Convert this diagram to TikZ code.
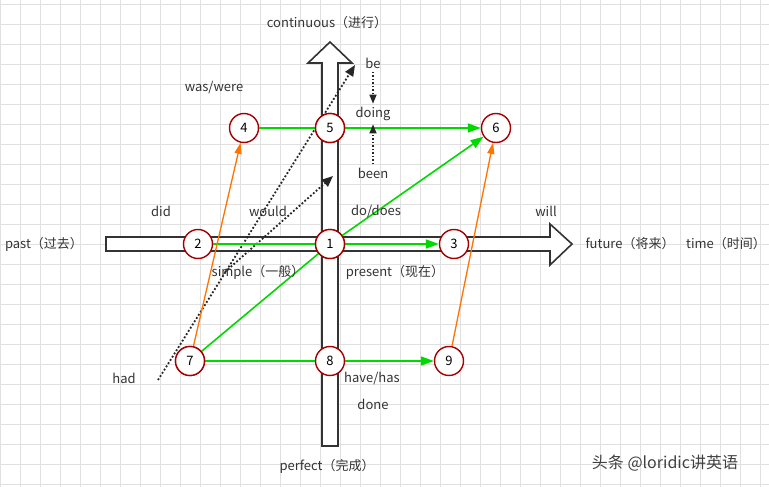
\documentclass[tikz,border=0pt]{standalone}
\usepackage{fontspec}
\setmainfont{Noto Sans CJK SC}
\usetikzlibrary{math,arrows.meta}
\tikzset{
  num/.style={circle, draw=red!65!black, line width=1.4pt, fill=white, minimum size=29pt, inner sep=0pt, font=\fontsize{13}{15}\selectfont},
  lbl/.style={text=black!80, font=\fontsize{13}{15}\selectfont},
  grn/.style={draw=green!85!black, line width=1.6pt},
  org/.style={draw=orange!90!red, line width=1.3pt, -{Triangle[width=7pt,length=11pt]}},
  dots/.style={dotted, line width=1.8pt, black!85},
  axis/.style={fill=white, draw=black!80, line width=1.6pt}
}
\begin{document}
\begin{tikzpicture}[x=1pt,y=-1pt]
  \useasboundingbox (0,0) rectangle (769,487);
  %%%%%%%%%%%%
  %  Griglia  %
  %%%%%%%%%%%%
  \fill[white] (0,0) rectangle (769,487);
  \foreach \i in {0,20,...,760} \draw[black!12, line width=.6pt] (\i,0) -- (\i,487);
  \foreach \j in {4,24,...,484} \draw[black!12, line width=.6pt] (0,\j) -- (769,\j);
  %%%%%%%%%%
  %  Assi  %
  %%%%%%%%%%
  \tikzmath{\cx = 330; \cy = 244;}
  \draw[axis] (106,237) -- (550,237) -- (550,224) -- (572,\cy)
    -- (550,265) -- (550,251) -- (106,251) -- cycle;
  \draw[axis] (322,446) -- (322,63) -- (308,63) -- (\cx,42)
    -- (352,63) -- (338,63) -- (338,446) -- cycle;
  %%%%%%%%%%
  %  Nodi  %
  %%%%%%%%%%
  \node[num] (n1) at (\cx,\cy) {1};
  \node[num] (n2) at (198,\cy) {2};
  \node[num] (n3) at (454,\cy) {3};
  \node[num] (n4) at (244,128) {4};
  \node[num] (n5) at (\cx,128) {5};
  \node[num] (n6) at (496,128) {6};
  \node[num] (n7) at (190,361) {7};
  \node[num] (n8) at (\cx,361) {8};
  \node[num] (n9) at (449,361) {9};
  %%%%%%%%%%%%%%
  %  Puntini  %
  %%%%%%%%%%%%%%
  \coordinate (da) at (158,380);
  \coordinate (db) at (355,65);
  \coordinate (dc) at (225,272);
  \coordinate (dd) at (333,176);
  \draw[dots, -{Triangle[width=9pt,length=11pt]}] (da) -- (db);
  \draw[dots, -{Triangle[width=9pt,length=11pt]}] (dc) -- (dd);
  %%%%%%%%%%%%
  %  Frecce  %
  %%%%%%%%%%%%
  \draw[grn] (n4) -- (n5);
  \draw[grn, -{Triangle[width=9pt,length=13pt]}] (n5) -- (n6);
  \draw[grn] (n2) -- (n1);
  \draw[grn, -{Triangle[width=9pt,length=13pt]}] (n1) -- (n3);
  \draw[grn, -{Triangle[width=9pt,length=13pt]}] (n1) -- (n6);
  \draw[grn] (n7) -- (n1);
  \draw[grn] (n7) -- (n8);
  \draw[grn, -{Triangle[width=9pt,length=13pt]}] (n8) -- (n9);
  \draw[org] (n7) -- (n4);
  \draw[org] (n9) -- (n6);
  \node[num] at (n1) {1};
  \node[num] at (n5) {5};
  \node[num] at (n7) {7};
  %%%%%%%%%%%%%%
  %  Etichette  %
  %%%%%%%%%%%%%%
  \node[lbl] (tcont) at (327,23) {continuous（进行）};
  \node[lbl] (tperf) at (327,466) {perfect（完成）};
  \node[lbl] (tpast) at (44,244) {past（过去）};
  \node[lbl] (tfut) at (630,244) {future（将来）};
  \node[lbl] (ttime) at (726,244) {time（时间）};
  \node[lbl] (tsimp) at (258,272) {simple（一般）};
  \node[lbl] (tpres) at (395,272) {present（现在）};
  \node[lbl] (twas) at (214,88) {was/were};
  \node[lbl] (tdid) at (161,211) {did};
  \node[lbl] (twould) at (268,211) {would};
  \node[lbl] (tdo) at (376,211) {do/does};
  \node[lbl] (twill) at (546,211) {will};
  \node[lbl] (thad) at (124,378) {had};
  \node[lbl] (thave) at (372,378) {have/has};
  \node[lbl] (tdone) at (373,404) {done};
  \node[lbl] (tbe) at (373,63) {be};
  \node[lbl] (tdoing) at (373,114) {doing};
  \node[lbl] (tbeen) at (373,173) {been};
  \draw[dots, line width=1.5pt, -{Triangle[width=7pt,length=9pt]}] (tbe) -- (tdoing);
  \draw[dots, line width=1.5pt, -{Triangle[width=7pt,length=9pt]}] (tbeen) -- (tdoing);
  \node[text=black!75, font=\fontsize{16}{18}\selectfont] (wm) at (665,463) {头条 @loridic讲英语};
\end{tikzpicture}
\end{document}
